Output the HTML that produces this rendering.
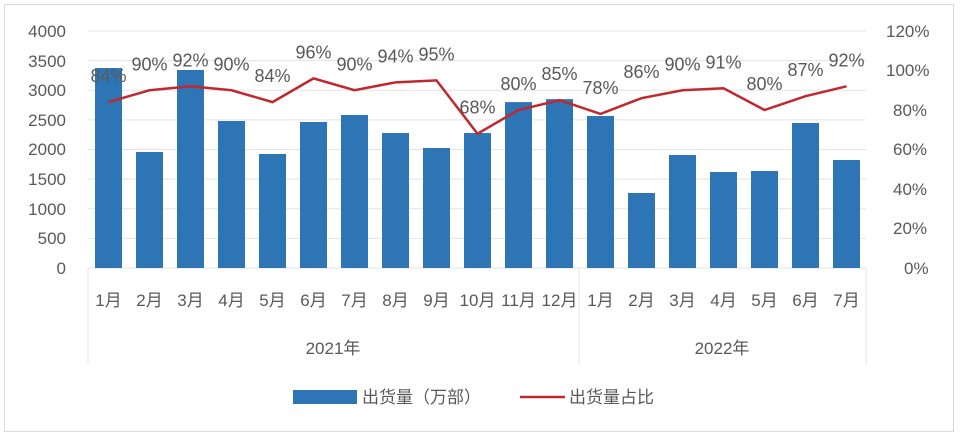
<!DOCTYPE html><html><head><meta charset="utf-8"><style>body{margin:0;background:#fff}svg{display:block}text{font-family:"Liberation Sans","Noto Sans CJK SC",sans-serif;fill:#595959}</style></head><body>
<svg width="960" height="437" viewBox="0 0 960 437">
<rect x="4.5" y="4.5" width="949" height="427" fill="#fff" stroke="#d9d9d9"/>
<g stroke="#e3e3e3" stroke-width="1">
<line x1="88" x2="866" y1="31" y2="31"/><line x1="88" x2="866" y1="60.6" y2="60.6"/><line x1="88" x2="866" y1="90.3" y2="90.3"/><line x1="88" x2="866" y1="119.9" y2="119.9"/><line x1="88" x2="866" y1="149.5" y2="149.5"/><line x1="88" x2="866" y1="179.1" y2="179.1"/><line x1="88" x2="866" y1="208.8" y2="208.8"/><line x1="88" x2="866" y1="238.4" y2="238.4"/>
<line x1="88" x2="866" y1="268" y2="268"/>
<line x1="88" x2="88" y1="268" y2="364"/><line x1="579" x2="579" y1="268" y2="364"/><line x1="866" x2="866" y1="268" y2="364"/>
</g>
<g font-size="17" text-anchor="end">
<text x="66" y="37">4000</text><text x="66" y="67">3500</text><text x="66" y="96">3000</text><text x="66" y="126">2500</text><text x="66" y="155">2000</text><text x="66" y="185">1500</text><text x="66" y="215">1000</text><text x="66" y="244">500</text><text x="66" y="274">0</text>
</g>
<g font-size="17" text-anchor="start">
<text x="886" y="37">120%</text><text x="886" y="76">100%</text><text x="893" y="116">80%</text><text x="893" y="155">60%</text><text x="893" y="195">40%</text><text x="893" y="234">20%</text><text x="904" y="274">0%</text>
</g>
<g fill="#2e75b6" id="bars"></g>
<polyline id="ln" fill="none" stroke="#c0282f" stroke-width="2.5"/>
<g id="lbl" font-size="18" text-anchor="middle"></g>
<g id="cat" font-size="17" text-anchor="middle"></g>
<text x="333" y="354" font-size="17" text-anchor="middle">2021年</text>
<text x="722" y="354" font-size="17" text-anchor="middle">2022年</text>
<rect x="293" y="390" width="64" height="14" fill="#2e75b6"/>
<text x="362" y="403" font-size="17">出货量（万部）</text>
<line x1="520" x2="565" y1="397" y2="397" stroke="#c0282f" stroke-width="2.5"/>
<text x="569" y="403" font-size="17">出货量占比</text>
</svg>
<script>
var v=[3375,1958,3342,2481,1924,2464,2582,2278,2025,2278,2800,2850,2565,1266,1907,1620,1637,2447,1823];
var p=[84,90,92,90,84,96,90,94,95,68,80,85,78,86,90,91,80,87,92];
var m=["1月","2月","3月","4月","5月","6月","7月","8月","9月","10月","11月","12月","1月","2月","3月","4月","5月","6月","7月"];
var ns="http://www.w3.org/2000/svg",b=document.getElementById("bars"),l=document.getElementById("lbl"),cg=document.getElementById("cat"),pts=[];
for(var i=0;i<19;i++){var c=108.5+i*41,h=v[i]*237/4000;
var r=document.createElementNS(ns,"rect");r.setAttribute("x",c-13.5);r.setAttribute("y",268-h);r.setAttribute("width",27);r.setAttribute("height",h);b.appendChild(r);
var y=268-p[i]*237/120;pts.push(c+","+y);
var t=document.createElementNS(ns,"text");t.setAttribute("x",c);t.setAttribute("y",y-20);t.textContent=p[i]+"%";l.appendChild(t);
var t2=document.createElementNS(ns,"text");t2.setAttribute("x",c);t2.setAttribute("y",306);t2.textContent=m[i];cg.appendChild(t2);}
document.getElementById("ln").setAttribute("points",pts.join(" "));
</script>
</body></html>
